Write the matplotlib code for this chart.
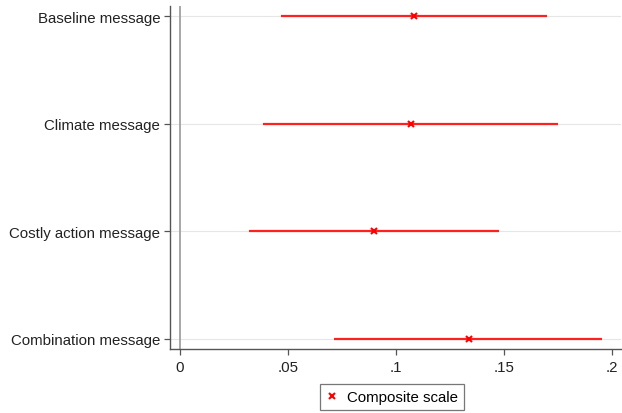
import matplotlib.pyplot as plt

# Point estimates with 95% confidence intervals
messages = ['Baseline message', 'Climate message', 'Costly action message', 'Combination message']
estimate = [0.1085, 0.1069, 0.0900, 0.1335]
ci_low = [0.0468, 0.0384, 0.0318, 0.0714]
ci_high = [0.1697, 0.1750, 0.1478, 0.1952]
xticks = [0, 0.05, 0.1, 0.15, 0.2]
xtick_labels = ['0', '.05', '.1', '.15', '.2']

plt.rcParams['font.family'] = ['Liberation Sans', 'DejaVu Sans']

fig = plt.figure(figsize=(6.22, 4.14), dpi=100)
ax = fig.add_axes([0.2733, 0.1546, 0.7250, 0.8285])

ypos = list(range(len(messages)))

# horizontal grid at each category
for y in ypos:
    ax.axhline(y, color='#e6e6e6', lw=0.8, zorder=0)

# reference line at zero
ax.axvline(0, color='#a0a0a0', lw=1.3, zorder=1)

ax.hlines(ypos, ci_low, ci_high, color='#ff2020', lw=1.6, zorder=2)
ax.plot(estimate, ypos, 'x', color='#ff0000', ms=4, mew=1.5, zorder=3,
        label='Composite scale')

ax.set_ylim(3.093, -0.093)
ax.set_xlim(-0.0046, 0.204)
ax.set_yticks(ypos)
ax.set_yticklabels(messages, fontsize=10.8, color='#222222')
ax.set_xticks(xticks)
ax.set_xticklabels(xtick_labels, fontsize=10.8, color='#222222')

for side in ['top', 'right']:
    ax.spines[side].set_visible(False)
for side in ['left', 'bottom']:
    ax.spines[side].set_color('#555555')
    ax.spines[side].set_linewidth(1.0)
ax.tick_params(axis='both', direction='out', length=4, width=0.9, color='#555555', pad=3)
ax.tick_params(axis='x', pad=4)

leg = fig.legend(loc='center', bbox_to_anchor=(392 / 622, 1 - 398 / 414), fontsize=10.8,
                 frameon=True, fancybox=False, edgecolor='#555555', handlelength=0.8,
                 handletextpad=0.6, borderpad=0.4)
leg.get_frame().set_linewidth(0.9)

fig.savefig('out.png', dpi=100)
